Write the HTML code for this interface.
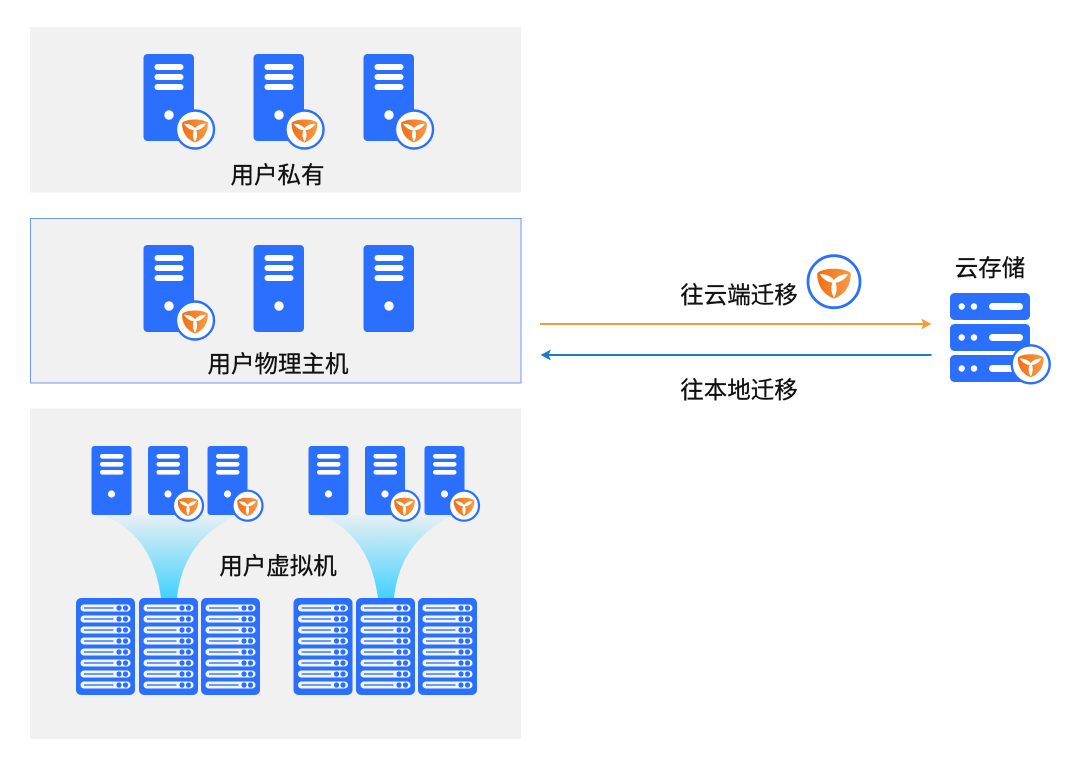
<!DOCTYPE html>
<html><head><meta charset="utf-8"><style>
html,body{margin:0;padding:0;background:#fff}
svg{display:block}
text{font-family:"Liberation Sans","Noto Sans CJK SC",sans-serif;font-size:23.5px;fill:#111;stroke:#111;stroke-width:.3px}
</style></head><body>
<svg xmlns="http://www.w3.org/2000/svg" width="1080" height="769" viewBox="0 0 1080 769">
<defs>
<linearGradient id="sh" x1="0" y1="0" x2="1" y2="0"><stop offset="0" stop-color="#ef7014"/><stop offset="1" stop-color="#f79a45"/></linearGradient>
<linearGradient id="fan" x1="0" y1="0" x2="0" y2="1"><stop offset="0" stop-color="#e9f0f3"/><stop offset="1" stop-color="#42d2ff"/></linearGradient>
<g id="logo">
<path d="M0,-10C5.500,-10 10,-9 12.800,-6.800C13.400,2 8.500,10 0,13C-8.500,10 -13.400,2 -12.800,-6.800C-10,-9 -5.500,-10 0,-10Z" fill="url(#sh)"/>
<g fill="#fff">
<path id="blade" d="M0,-1C2.800,2 2.600,8 0,12.300C-2.600,8 -2.800,2 0,-1Z"/>
<path d="M0,-1C2.800,2 2.600,8 0,12.300C-2.600,8 -2.800,2 0,-1Z" transform="rotate(118)"/>
<path d="M0,-1C2.800,2 2.600,8 0,12.300C-2.600,8 -2.800,2 0,-1Z" transform="rotate(-118)"/>
</g>
</g>
<g id="badge"><circle r="19" fill="#fff" stroke="#2b6fff" stroke-width="2.4"/><use href="#logo"/></g>
<g id="badgeS"><circle r="15" fill="#fff" stroke="#2b6fff" stroke-width="2.2"/><use href="#logo" transform="scale(.8)"/></g>
<g id="big">
<rect x="0" y="0" width="50.500" height="87" rx="4" fill="#2b6fff"/>
<rect x="11" y="10" width="29" height="6" rx="3" fill="#fff"/>
<rect x="11" y="20" width="29" height="6" rx="3" fill="#fff"/>
<rect x="11" y="30" width="29" height="6" rx="3" fill="#fff"/>
<circle cx="25.500" cy="61" r="4.700" fill="#fff"/>
</g>
<g id="small">
<rect x="0" y="0" width="40" height="69" rx="3" fill="#2b6fff"/>
<rect x="8.500" y="8" width="23.500" height="4.600" rx="2.300" fill="#fff"/>
<rect x="8.500" y="16" width="23.500" height="4.600" rx="2.300" fill="#fff"/>
<rect x="8.500" y="24" width="23.500" height="4.600" rx="2.300" fill="#fff"/>
<circle cx="20" cy="48" r="3.600" fill="#fff"/>
</g>
<g id="row">
<rect x="4.500" y="-3.500" width="50" height="7" rx="3.500" fill="#f4f7ff"/>
<rect x="8" y="-.9" width="29.500" height="1.800" fill="#5c8fff"/>
<circle cx="43" cy="0" r="2.600" fill="#2b6fff"/>
<circle cx="49.500" cy="0" r="2.600" fill="#2b6fff"/>
</g>
<g id="rack">
<rect x="0" y="0" width="59" height="97" rx="5" fill="#2b6fff"/>
<use href="#row" y="10"/><use href="#row" y="21"/><use href="#row" y="32"/><use href="#row" y="43"/>
<use href="#row" y="54"/><use href="#row" y="65"/><use href="#row" y="76"/><use href="#row" y="87"/>
</g>
<g id="stor">
<rect x="0" y="0" width="80" height="27" rx="4.500" fill="#2b6fff"/>
<circle cx="11.700" cy="13.500" r="3.200" fill="#fff"/>
<circle cx="24" cy="13.500" r="3.200" fill="#fff"/>
<rect x="39" y="10" width="34" height="7" rx="3.500" fill="#fff"/>
</g>
<g id="fanS"><path d="M103,515C140,530 156,560 161,598L177,598C181,565 195,535 237,515Z" fill="url(#fan)"/></g>
</defs>

<rect x="30" y="27" width="491" height="165.500" fill="#f1f1f1"/>
<rect x="30.500" y="218.500" width="490.500" height="164.500" fill="#f1f1f1" stroke="#6f98f5" stroke-width="1"/>
<rect x="30" y="408.500" width="491" height="330.500" fill="#f1f1f1"/>

<use href="#big" x="143.500" y="54"/><use href="#badge" x="195" y="129.500"/>
<use href="#big" x="253.500" y="54"/><use href="#badge" x="304.500" y="129.500"/>
<use href="#big" x="363.500" y="54"/><use href="#badge" x="414" y="129.500"/>
<text x="277.500" y="183" text-anchor="middle">用户私有</text>

<use href="#big" x="143.500" y="245"/><use href="#badge" x="195" y="320.500"/>
<use href="#big" x="253.500" y="245"/>
<use href="#big" x="363.500" y="245"/>
<text x="278" y="372" text-anchor="middle">用户物理主机</text>

<use href="#fanS"/><use href="#fanS" x="217"/>
<use href="#small" x="91.500" y="446"/>
<use href="#small" x="148" y="446"/><use href="#badgeS" x="188" y="505.700"/>
<use href="#small" x="207.500" y="446"/><use href="#badgeS" x="247.500" y="505.700"/>
<use href="#small" x="308.500" y="446"/>
<use href="#small" x="365" y="446"/><use href="#badgeS" x="404.500" y="505.700"/>
<use href="#small" x="424.500" y="446"/><use href="#badgeS" x="464" y="505.700"/>
<text x="278" y="574" text-anchor="middle">用户虚拟机</text>

<use href="#rack" x="76" y="598"/><use href="#rack" x="139" y="598"/><use href="#rack" x="201" y="598"/>
<use href="#rack" x="293.500" y="598"/><use href="#rack" x="356" y="598"/><use href="#rack" x="418" y="598"/>

<text x="739" y="303" text-anchor="middle">往云端迁移</text>
<text x="739" y="398" text-anchor="middle">往本地迁移</text>
<circle cx="834" cy="281.700" r="26" fill="#fff" stroke="#2b6fff" stroke-width="2.800"/>
<use href="#logo" transform="translate(834 281.700) scale(1.300)"/>

<rect x="540" y="323" width="385" height="2" fill="#f79c35"/>
<path d="M921,318.500L931.500,324L921,329.500L923.500,324Z" fill="#f79c35"/>
<rect x="546" y="354" width="385.500" height="2" fill="#1a7cc4"/>
<path d="M551,349.500L540.500,355L551,360.500L548.500,355Z" fill="#1a7cc4"/>

<text x="990" y="276" text-anchor="middle">云存储</text>
<use href="#stor" x="950" y="293"/><use href="#stor" x="950" y="324"/><use href="#stor" x="950" y="355"/>
<use href="#badge" x="1030.700" y="364.300"/>
</svg>
</body></html>
